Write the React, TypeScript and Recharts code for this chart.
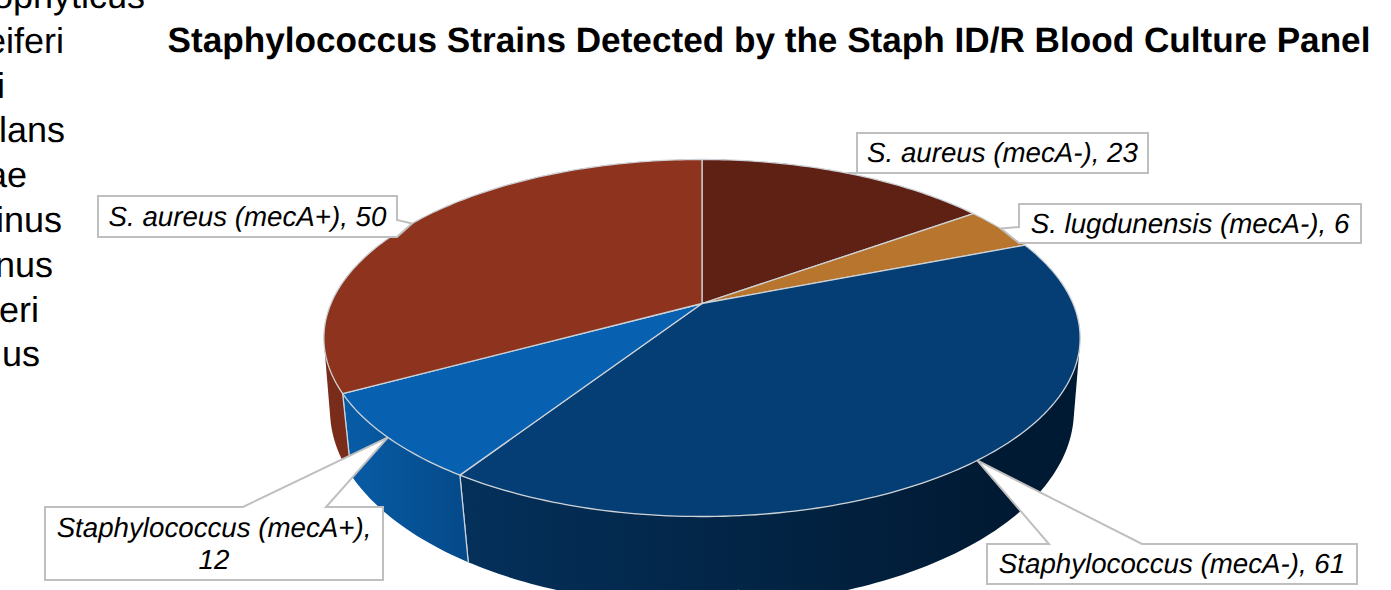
import React from "react";
import { PieChart, Pie, Cell } from "recharts";

const strains = [
  "S. aureus (mecA-)",
  "S. lugdunensis (mecA-)",
  "Staphylococcus (mecA-)",
  "Staphylococcus (mecA+)",
  "S. aureus (mecA+)",
];
const counts = [23, 6, 61, 12, 50];
const topColors = ["#5f2114", "#b7752d", "#053e74", "#0760b0", "#8e341e"];
const wallStart = ["#4a1a10", "#8f5a22", "#04305a", "#075ca6", "#7a2c1a"];
const wallEnd = ["#4a1a10", "#8f5a22", "#011a33", "#054a8a", "#7a2c1a"];

// clipped legend that runs off the left edge of the slide
const legendTails = ["ophyticus", "eiferi", "i", "lans", "ae", "inus", "nus", "eri", "us"];
const legendRight = [145, 64, 5, 65, 27, 62, 53, 39, 40];

const title = "Staphylococcus Strains Detected by the Staph ID/R Blood Culture Panel";

const data = strains.map((name, i) => ({ name, value: counts[i] }));

// callout boxes, same order as strains
const callouts = [
  { x: 857, y: 133, w: 291, h: 40, side: "bottom", a: 857, b: 905, lines: 1 },
  { x: 1019, y: 204, w: 342, h: 39, side: "left", a: 227, b: 243, lines: 1 },
  { x: 987, y: 544, w: 370, h: 40, side: "top", a: 1049, b: 1142, lines: 1 },
  { x: 45, y: 507, w: 338, h: 73, side: "top", a: 243, b: 326, lines: 2 },
  { x: 98, y: 196, w: 299, h: 41, side: "right", a: 220, b: 237, lines: 1 },
];

// perspective of the disc: the far side is squeezed, the bottom rim sits lower and is a bit smaller
const TOP_RIM = { a: 1, b: 0.4632, p: 0.1933, dy: 0 };
const BOTTOM_RIM = { a: 0.988, b: 0.5105, p: 0.17, dy: 0.199 };

const project = (cx: number, cy: number, r: number, angle: number, rim: typeof TOP_RIM) => {
  const t = ((90 - angle) * Math.PI) / 180;
  const w = 1 + rim.p * Math.cos(t);
  return [cx + (r * rim.a * Math.sin(t)) / w, cy + r * rim.dy - (r * rim.b * Math.cos(t)) / w];
};

const TopSlice = (props: any) => {
  const { cx, cy, outerRadius, startAngle, endAngle, fill } = props;
  const steps = Math.max(2, Math.ceil(Math.abs(endAngle - startAngle)));
  let d = `M${cx},${cy}`;
  for (let i = 0; i <= steps; i++) {
    const [x, y] = project(cx, cy, outerRadius, startAngle + ((endAngle - startAngle) * i) / steps, TOP_RIM);
    d += `L${x.toFixed(2)},${y.toFixed(2)}`;
  }
  return <path d={d + "Z"} fill={fill} stroke="#cdd2d7" strokeWidth={1.3} strokeLinejoin="round" />;
};

const WallSlice = (props: any) => {
  const { cx, cy, outerRadius, startAngle, endAngle, fill } = props;
  const steps = Math.max(2, Math.ceil(Math.abs(endAngle - startAngle)));
  const pt = (i: number, rim: typeof TOP_RIM) =>
    project(cx, cy, outerRadius, startAngle + ((endAngle - startAngle) * i) / steps, rim);
  let d = "";
  for (let i = 0; i < steps; i++) {
    let quad = [pt(i, TOP_RIM), pt(i + 1, TOP_RIM), pt(i + 1, BOTTOM_RIM), pt(i, BOTTOM_RIM)];
    // keep one winding so the strip does not cancel itself where it folds at the silhouette
    let area = 0;
    quad.forEach((p, k) => {
      const n = quad[(k + 1) % 4];
      area += p[0] * n[1] - n[0] * p[1];
    });
    if (area < 0) quad = quad.reverse();
    d += "M" + quad.map((p) => `${p[0].toFixed(2)},${p[1].toFixed(2)}`).join("L") + "Z";
  }
  const edge = (i: number) => {
    const a = pt(i, TOP_RIM);
    const b = pt(i, BOTTOM_RIM);
    return <line x1={a[0]} y1={a[1]} x2={b[0]} y2={b[1]} stroke="#cdd5dc" strokeWidth={1.2} />;
  };
  return (
    <g>
      <path d={d} fill={fill} />
      {edge(0)}
      {edge(steps)}
    </g>
  );
};

const renderCallout = (props: any) => {
  const { cx, cy, outerRadius, midAngle, name, value, index } = props;
  const box = callouts[index];
  const [tx, ty] = project(cx, cy, outerRadius, midAngle, TOP_RIM);
  const { x, y, w, h, side, a, b } = box;
  const r = x + w;
  const btm = y + h;
  const pts = [[x, y]];
  if (side === "top") pts.push([a, y], [tx, ty], [b, y]);
  pts.push([r, y]);
  if (side === "right") pts.push([r, a], [tx, ty], [r, b]);
  pts.push([r, btm]);
  if (side === "bottom") pts.push([b, btm], [tx, ty], [a, btm]);
  pts.push([x, btm]);
  if (side === "left") pts.push([x, b], [tx, ty], [x, a]);
  const midX = x + w / 2;
  return (
    <g>
      <polygon
        points={pts.map((p) => p.join(",")).join(" ")}
        fill="#ffffff"
        stroke="#bfbfbf"
        strokeWidth={2}
      />
      {box.lines === 2 ? (
        <text x={midX} y={y + 30} textAnchor="middle" fontSize={27.7} fontStyle="italic" fill="#000">
          <tspan x={midX}>{name},</tspan>
          <tspan x={midX} dy={32}>
            {value}
          </tspan>
        </text>
      ) : (
        <text x={midX} y={y + h / 2 + 9} textAnchor="middle" fontSize={27.7} fontStyle="italic" fill="#000">
          {name}, {value}
        </text>
      )}
    </g>
  );
};

export default function App() {
  return (
    <div
      style={{
        position: "absolute",
        left: 0,
        top: 0,
        width: 1391,
        height: 590,
        overflow: "hidden",
        background: "#fff",
        fontFamily: "'Liberation Sans', Arial, sans-serif",
        textRendering: "geometricPrecision",
      }}
    >
      <PieChart width={1391} height={590} margin={{ top: 0, right: 0, bottom: 0, left: 0 }}>
        <defs>
          {strains.map((_, i) => (
            <linearGradient
              key={i}
              id={`wall${i}`}
              gradientUnits="userSpaceOnUse"
              x1={i === 3 ? 345 : 465}
              x2={i === 3 ? 465 : 1000}
              y1={0}
              y2={0}
            >
              <stop offset="0%" stopColor={wallStart[i]} />
              <stop offset="100%" stopColor={wallEnd[i]} />
            </linearGradient>
          ))}
        </defs>
        <Pie
          data={data}
          dataKey="value"
          nameKey="name"
          cx={702}
          cy={303.5}
          outerRadius={371}
          startAngle={90}
          endAngle={-270}
          shape={WallSlice}
          label={false}
          labelLine={false}
          isAnimationActive={false}
        >
          {data.map((_, i) => (
            <Cell key={`wall-${i}`} fill={`url(#wall${i})`} />
          ))}
        </Pie>
        <Pie
          data={data}
          dataKey="value"
          nameKey="name"
          cx={702}
          cy={303.5}
          outerRadius={371}
          startAngle={90}
          endAngle={-270}
          shape={TopSlice}
          label={renderCallout}
          labelLine={false}
          isAnimationActive={false}
        >
          {data.map((_, i) => (
            <Cell key={`top-${i}`} fill={topColors[i]} />
          ))}
        </Pie>
        <text x={769} y={52} textAnchor="middle" fontSize={35.15} fontWeight="bold" fill="#000">
          {title}
        </text>
        {legendTails.map((t, i) => (
          <text key={t} x={legendRight[i]} y={8 + i * 44.8} textAnchor="end" fontSize={36} fill="#000">
            {t}
          </text>
        ))}
      </PieChart>
    </div>
  );
}
